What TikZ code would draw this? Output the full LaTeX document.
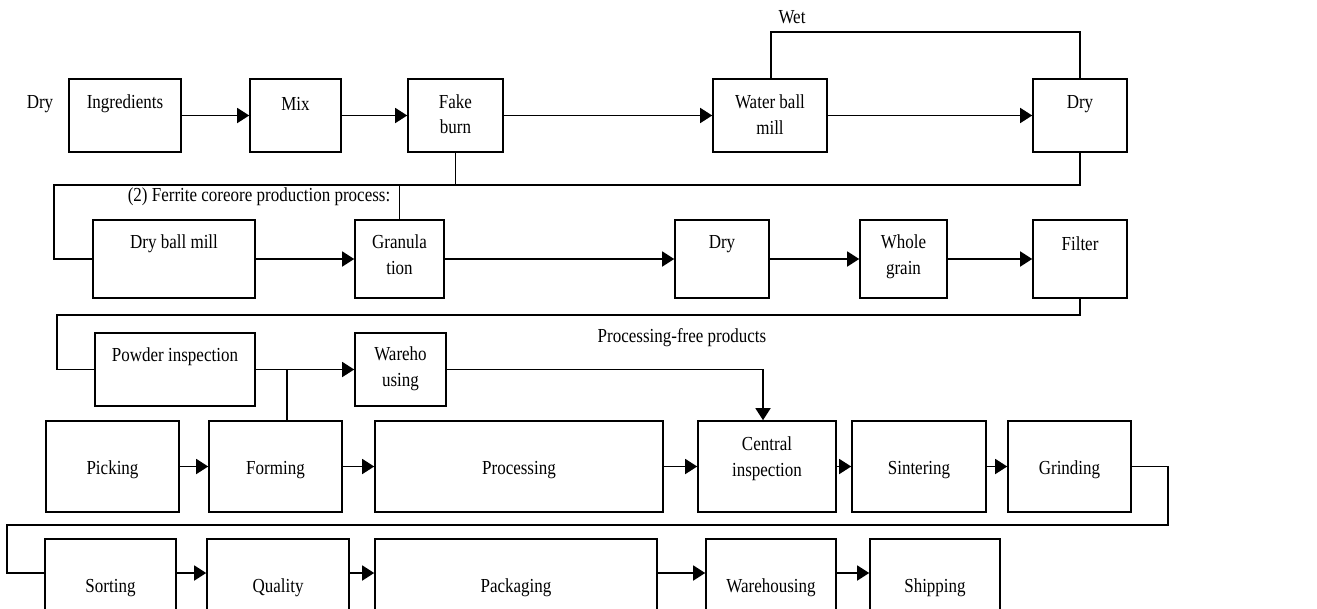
\documentclass[tikz,border=0pt]{standalone}
\usepackage{fontspec}
\setmainfont{Liberation Serif}
\usetikzlibrary{arrows.meta}
\newcommand\ty[1]{\scalebox{1}[1.17]{#1}}
\newcommand\tw[2]{\scalebox{1}[1.17]{\begin{tabular}{@{}c@{}}#1\\#2\end{tabular}}}
\newcommand\bx[5]{\node[box, minimum width=#4pt, minimum height=#5pt] (#1) at (#2,#3) {};}
\begin{document}
\begin{tikzpicture}[x=1pt,y=-1pt,
  box/.style={draw, rectangle, line width=1.6pt, inner sep=0pt},
  txt/.style={inner sep=0pt, font=\fontsize{17}{21.5}\selectfont},
  conn/.style={line width=1.5pt},
  arr/.style={line width=1.5pt, -{Triangle[length=12pt,width=15pt]}}]
\useasboundingbox (0,0) rectangle (1317,608);
\clip (0,0) rectangle (1317,608);
\fill[white] (0,0) rectangle (1317,608);
% Row 1
\bx{ing}{125}{115.5}{112}{73}
\bx{mix}{295.5}{115.5}{91}{73}
\bx{fake}{455.5}{115.5}{95}{73}
\bx{wbm}{770}{115.5}{114}{73}
\bx{dryA}{1080}{115.5}{94}{73}
% Row 2
\bx{dbm}{174}{259}{162}{78}
\bx{gran}{399.5}{259}{89}{78}
\bx{dryB}{722}{259}{94}{78}
\bx{whole}{903.5}{259}{87}{78}
\bx{filt}{1080}{259}{94}{78}
% Row 3
\bx{pow}{175}{369.5}{160}{73}
\bx{wh}{400.5}{369.5}{91}{73}
% Row 4
\bx{pick}{112.5}{466.5}{133}{91}
\bx{form}{275.5}{466.5}{133}{91}
\bx{proc}{519}{466.5}{288}{91}
\bx{cen}{767}{466.5}{138}{91}
\bx{sint}{919}{466.5}{134}{91}
\bx{grind}{1069.5}{466.5}{123}{91}
% Row 5
\bx{sort}{110.5}{576}{131}{74}
\bx{qual}{278}{576}{142}{74}
\bx{pack}{516}{576}{282}{74}
\bx{whB}{771}{576}{130}{74}
\bx{ship}{935}{576}{130}{74}
% Texts
\node[txt] (tdry) at (40,104) {\ty{Dry}};
\node[txt] at (125,104) {\ty{Ingredients}};
\node[txt] at (295.5,104) {\ty{Mix}};
\node[txt] at (455.5,116) {\tw{Fake}{burn}};
\node[txt] at (770,116.5) {\tw{Water ball}{mill}};
\node[txt] at (1080,104) {\ty{Dry}};
\node[txt] (twet) at (792,17) {\ty{Wet}};
\node[txt] (ttitle) at (259,197) {\ty{(2) Ferrite coreore production process:}};
\node[txt] at (174,244) {\ty{Dry ball mill}};
\node[txt] at (399.5,256.5) {\tw{Granula}{tion}};
\node[txt] at (722,244) {\ty{Dry}};
\node[txt] at (903.5,256.5) {\tw{Whole}{grain}};
\node[txt] at (1080,244) {\ty{Filter}};
\node[txt] at (175,357) {\ty{Powder inspection}};
\node[txt] at (400.5,368.5) {\tw{Wareho}{using}};
\node[txt] (tfree) at (682,338) {\ty{Processing-free products}};
\node[txt] at (112.5,470) {\ty{Picking}};
\node[txt] at (275.5,470) {\ty{Forming}};
\node[txt] at (519,470) {\ty{Processing}};
\node[txt] at (767,458.5) {\tw{Central}{inspection}};
\node[txt] at (919,470) {\ty{Sintering}};
\node[txt] at (1069.5,470) {\ty{Grinding}};
\node[txt] at (110.5,588) {\ty{Sorting}};
\node[txt] at (278,588) {\ty{Quality}};
\node[txt] at (516,588) {\ty{Packaging}};
\node[txt] at (771,588) {\ty{Warehousing}};
\node[txt] at (935,588) {\ty{Shipping}};
% Row 1 arrows
\draw[arr] (ing.east) -- (mix.west);
\draw[arr] (mix.east) -- (fake.west);
\draw[arr] (fake.east) -- (wbm.west);
\draw[arr] (wbm.east) -- (dryA.west);
% Wet loop
\coordinate (wetL) at (771,32);
\coordinate (wetR) at (1080,32);
\draw[conn] (wbm.north -| wetL) -- (wetL) -- (wetR) -- (dryA.north);
% Row1 -> Row2
\coordinate (j1) at (54,185);
\draw[conn] (fake.south) |- (j1) |- (dbm.west);
\draw[conn] (dryA.south) |- (fake.south |- j1);
\draw[conn] (gran.north) -- (gran.north |- j1);
% Row 2 arrows
\draw[arr] (dbm.east) -- (gran.west);
\draw[arr] (gran.east) -- (dryB.west);
\draw[arr] (dryB.east) -- (whole.west);
\draw[arr] (whole.east) -- (filt.west);
% Row2 -> Row3
\coordinate (j2) at (57,315);
\draw[conn] (filt.south) |- (j2) |- (pow.west);
\draw[arr] (pow.east) -- (wh.west);
\coordinate (pj) at (287,369.5);
\draw[conn] (pj) -- (pj |- form.north);
\coordinate (cj) at (763,369.5);
\draw[arr] (wh.east) -- (cj) -- (cj |- cen.north);
% Row 4 arrows
\draw[arr] (pick.east) -- (form.west);
\draw[arr] (form.east) -- (proc.west);
\draw[arr] (proc.east) -- (cen.west);
\draw[arr] (cen.east) -- (sint.west);
\draw[arr] (sint.east) -- (grind.west);
% Row4 -> Row5
\coordinate (g1) at (1168,525);
\coordinate (g2) at (7,525);
\draw[conn] (grind.east) -| (g1) -- (g2) |- ([yshift=3pt]sort.west);
% Row 5 arrows
\draw[arr] ([yshift=3pt]sort.east) -- ([yshift=3pt]qual.west);
\draw[arr] ([yshift=3pt]qual.east) -- ([yshift=3pt]pack.west);
\draw[arr] ([yshift=3pt]pack.east) -- ([yshift=3pt]whB.west);
\draw[arr] ([yshift=3pt]whB.east) -- ([yshift=3pt]ship.west);
\end{tikzpicture}
\end{document}
